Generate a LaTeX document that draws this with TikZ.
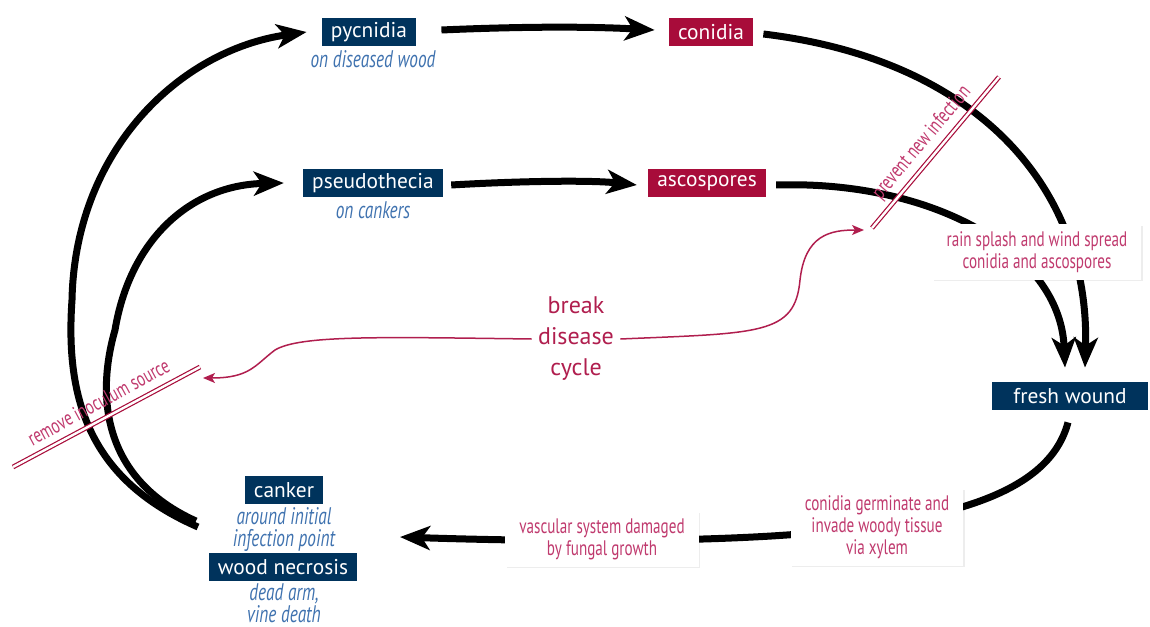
\documentclass[tikz,border=0pt]{standalone}
\usepackage{fontspec}
\setmainfont{PT Sans}
\newfontfamily\condfont{PT Sans}[FakeStretch=0.72]
\usetikzlibrary{arrows.meta,shadows}
\definecolor{navy}{HTML}{00335C}
\definecolor{crim}{HTML}{A80C3A}
\definecolor{crimtxt}{HTML}{B01E4E}
\definecolor{subblue}{HTML}{3F72AF}
\definecolor{labred}{HTML}{C03A6E}
\pgfdeclarelayer{bg}
\pgfsetlayers{bg,main}
\begin{document}
\begin{tikzpicture}[x=0.5pt,y=-0.5pt,
  box/.style={fill=navy, text=white, font=\fontsize{10.7}{12}\selectfont, inner xsep=4.5pt, inner ysep=0pt, minimum height=14pt},
  rbox/.style={box, fill=crim},
  sublab/.style={text=subblue, font=\condfont\itshape\fontsize{12}{11}\selectfont, inner sep=0pt, align=center},
  lab/.style={fill=white, text=labred, font=\condfont\fontsize{10.5}{11}\selectfont, align=center, inner xsep=7pt, inner ysep=3.5pt, drop shadow={fill=black, opacity=0.07, shadow xshift=0.8pt, shadow yshift=-0.8pt}},
  rotlab/.style={text=labred, font=\condfont\fontsize{10.5}{11}\selectfont, inner sep=0pt},
  bigarrow/.style={line width=3.5pt, -{Stealth[length=15pt,width=12pt,inset=4pt]}},
  thinarrow/.style={draw=crimtxt, line width=0.75pt, -{Stealth[length=6pt,width=5pt,inset=1.5pt]}},
  barline/.style={draw=crim, double=white, line width=0.6pt, double distance=1.2pt}
]
\useasboundingbox (0,0) rectangle (1150,626);

% nodes
\node[box] (pyc) at (369,32) {pycnidia};
\node[sublab] (pycs) at (373,59) {on diseased wood};
\node[rbox] (con) at (711,32) {conidia};
\node[box] (pse) at (373,183) {pseudothecia};
\node[sublab] (pses) at (373,210) {on cankers};
\node[rbox] (asc) at (707,183) {ascospores};
\node[box, minimum width=78pt] (fw) at (1070,396) {fresh wound};
\node[box] (cank) at (284,490) {canker};
\node[sublab] (canks) at (284,529) {around initial\\infection point};
\node[box] (wn) at (283,567) {wood necrosis};
\node[sublab] (wns) at (284,603) {dead arm,\\vine death};
\node[font=\fontsize{12}{15.5}\selectfont, text=crimtxt, align=center, inner sep=0pt] (brk) at (576,339) {break\\disease\\cycle};
\node[lab] (rain) at (1037,252) {rain splash and wind spread\\conidia and ascospores};
\node[lab] (germ) at (877,527) {conidia germinate and\\invade woody tissue\\via xylem};
\node[lab] (vasc) at (602,539) {vascular system damaged\\by fungal growth};

\coordinate (cA) at (198,527);
\coordinate (cB) at (196,521);
\coordinate (tipL) at (400,537);

% main cycle arrows
\begin{pgfonlayer}{bg}
\draw[bigarrow] ([xshift=12.5pt,yshift=1pt]pyc.east) .. controls (510,27) and (580,26) .. ([xshift=-7pt,yshift=1pt]con.west);
\draw[bigarrow] ([xshift=4pt,yshift=-1pt]pse.east) .. controls (520,181) and (590,180) .. ([xshift=-5.5pt,yshift=-1pt]asc.west);
\draw[bigarrow] ([xshift=5pt,yshift=-1pt]con.east) .. controls (980,60) and (1090,190) .. ([xshift=7.5pt,yshift=7pt]fw.north);
\draw[bigarrow] ([xshift=5pt,yshift=-1pt]asc.east) .. controls (930,180) and (1060,250) .. ([xshift=-2.5pt,yshift=7pt]fw.north);
\draw[bigarrow] ([xshift=-1pt,yshift=-6pt]fw.south) .. controls (1050,490) and (960,520) .. (800,534) .. controls (700,542) and (550,542) .. (tipL);
\draw[bigarrow] (cA) .. controls (90,480) and (65,400) .. (72,300) .. controls (75,150) and (180,50) .. ([xshift=-7.5pt]pyc.west);
\draw[bigarrow] (cB) .. controls (105,480) and (95,400) .. (115,330) .. controls (130,240) and (190,185) .. ([xshift=-9.5pt]pse.west);
\end{pgfonlayer}

% barriers
\coordinate (pA) at (872,228);
\coordinate (pB) at (999,77);
\draw[barline] (pA) -- (pB);
\node[rotlab, rotate=49.9] (prev) at (922,143) {prevent new infection};
\coordinate (rA) at (13,467);
\coordinate (rB) at (200,367);
\draw[barline] (rA) -- (rB);
\node[rotlab, rotate=28.5] (remv) at (98.5,402) {remove inoculum source};

% break disease cycle arrows
\draw[thinarrow] ([xshift=3pt]brk.east) .. controls (760,333) and (795,335) .. (800,280) .. controls (805,235) and (830,230) .. ([xshift=-4pt,yshift=-1pt]pA);
\draw[thinarrow] ([xshift=-3pt]brk.west) .. controls (380,337) and (300,335) .. (275,350) .. controls (255,365) and (250,378) .. ([xshift=1.5pt,yshift=-5.5pt]rB);
\end{tikzpicture}
\end{document}
